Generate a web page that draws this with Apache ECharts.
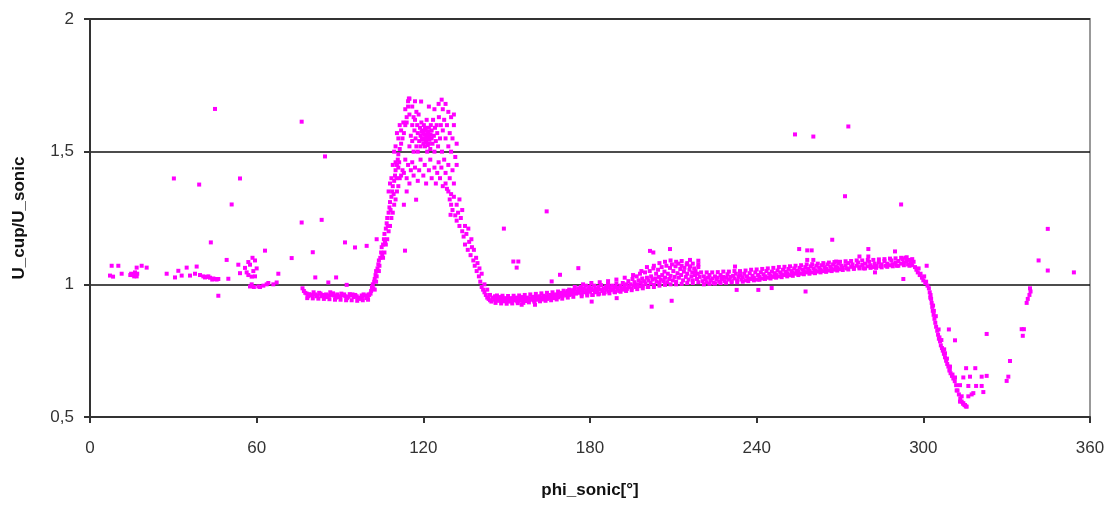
<!DOCTYPE html>
<html>
<head>
<meta charset="utf-8">
<script src="https://cdn.jsdelivr.net/npm/echarts@6/dist/echarts.min.js"></script>
<style>
html,body{margin:0;padding:0;background:#fff;}
#chart{width:1117px;height:506px;}
</style>
</head>
<body>
<div id="chart"></div>
<script>
// ---- data (phi_sonic [deg], U_cup/U_sonic) ----
const xTicks = [0, 60, 120, 180, 240, 300, 360];
const yTicks = [0.5, 1, 1.5, 2];

const leftScatter = [
[7.2,1.033],[7.8,1.07],[8.3,1.029],[10.2,1.07],[11.4,1.04],[14.5,1.035],[14.8,1.04],[15.5,1.035],[15.9,1.03],[16.2,1.045],[16.8,1.03],[17.0,1.04],[16.8,1.063],[18.6,1.07],[20.4,1.063],[27.6,1.04],[30.6,1.026],[31.8,1.051],[33.0,1.033],[34.8,1.063],[36.0,1.033],[37.8,1.04],[38.4,1.067],[39.6,1.035],[40.8,1.03],[41.4,1.026],[42.0,1.028],[42.6,1.03],[43.2,1.025],[44.0,1.018],[44.4,1.022],[45.0,1.02],[45.6,1.018],[46.2,1.02],[46.2,0.957],[49.2,1.092],[49.8,1.021],[53.4,1.074],[54.0,1.042],[55.8,1.062],[56.4,1.045],[57.0,1.084],[57.0,1.035],[57.6,1.074],[57.6,0.992],[58.2,1.029],[58.2,1.0],[58.5,1.1],[58.8,1.05],[59.0,0.99],[59.4,1.09],[59.4,1.03],[60.0,1.06],[60.6,0.992],[61.2,0.99],[62.4,0.995],[63.6,1.0],[64.2,1.005],[66.0,1.0],[67.2,1.007],[67.8,1.04],[63.0,1.127]
];

const outliers = [
[30.2,1.399],[39.3,1.376],[54.0,1.399],[45.0,1.661],[76.2,1.613],[84.6,1.482],[51.0,1.301],[43.5,1.158],[76.2,1.233],[83.4,1.243],[72.6,1.099],[80.2,1.121],[91.8,1.158],[95.4,1.139],[99.6,1.145],[103.2,1.17],[81.1,1.026],[85.8,1.007],[88.6,1.026],[92.4,0.998],
[119.2,1.689],[126.6,1.696],[117.4,1.319],[129.8,1.262],[113.4,1.127],[149,1.21],[164.4,1.275],[152.4,1.086],[154.2,1.086],[153.6,1.063],[175.8,1.061],[169.2,1.036],[166.2,1.011],[201.6,1.126],[202.8,1.12],[208.8,1.133],[209.4,0.938],[202.2,0.916],[216,1.092],[219,1.089],[232.2,1.067],[232.8,0.979],[240.6,0.979],[245.4,0.986],[189.6,0.948],[180.6,0.935],[155.4,0.923],[160.2,0.923],
[253.8,1.565],[260.4,1.557],[273,1.595],[271.8,1.332],[292,1.301],[267.2,1.168],[255.3,1.133],[258.2,1.128],[259.8,1.128],[258.2,1.092],[260.4,1.092],[280.2,1.133],[277,1.105],[280.2,1.105],[289.8,1.124],[292.8,1.02],[301.2,1.07],[257.6,0.973],[282.6,1.045],[268.6,1.086],
[341.5,1.09],[344.8,1.052],[344.8,1.209],[354.2,1.045]
];

const lowBand = [
[76.5,0.985],[77,0.975],[77.5,0.968],[78,0.965],[78.5,0.955],[79,0.963],[79.5,0.958],[80,0.96],[80.5,0.97],[81,0.962],[81.5,0.955],[82,0.958],[82.5,0.968],[83,0.965],[83.5,0.955],[84,0.96],[84.5,0.952],[85,0.962],[85.5,0.952],[86,0.958],[86.5,0.97],[87,0.96],[87.5,0.966],[88,0.957],[88.5,0.95],[89,0.962],[89.5,0.952],[90,0.955],[90.5,0.965],[91,0.958],[91.5,0.962],[92,0.955],[92.5,0.948],[93,0.953],[93.5,0.963],[94,0.958],[94.5,0.962],[95,0.952],[95.5,0.96],[96,0.955],[96.5,0.948],[97,0.95],[97.5,0.945],[97.8,0.958],[98,0.953],[98.5,0.962],[99,0.958],[99.5,0.948],[100,0.955],[100.3,0.962],
[78.2,0.948],[80.2,0.947],[82.2,0.946],[84.2,0.945],[86.2,0.944],[88.2,0.942],[90.2,0.942],[92.2,0.94],[94.2,0.94],[96.2,0.938],[98.2,0.94],[100.1,0.942]
];

const riseLeft = [
[100.5,0.96],[101,0.965],[101.2,0.975],[101.5,0.99],[101.8,1.0],[102,0.985],[102.3,1.01],[102.5,1.02],[102.5,0.98],[102.8,1.035],[103,1.05],[103,1.01],[103.2,1.03],[103.5,1.06],[103.8,1.075],[104,1.09],[104,1.05],[104.2,1.07],[104.5,1.1],[104.8,1.12],[105,1.14],[105.2,1.11],[105.5,1.15],[105.5,1.1],[105.8,1.17],[106,1.19],[106,1.12],[106.2,1.16],[106.5,1.21],[106.5,1.15],[106.8,1.23],[107,1.25],[107,1.17],[107.2,1.22],[107.5,1.27],[107.5,1.2],[107.5,1.35],[107.8,1.29],[108,1.31],[108,1.22],[108,1.38],[108.2,1.28],[108.5,1.33],[108.5,1.25],[108.5,1.4],[108.8,1.35],[109,1.37],[109,1.27],[109,1.45],[109.3,1.34],[109.5,1.39],[109.5,1.3],[109.5,1.5],[109.8,1.41],[110,1.43],[110,1.32],[110,1.46],[110,1.52],[110.3,1.4],[110.5,1.45],[110.5,1.35],[110.5,1.57],[110.8,1.47],[111,1.49],[111,1.37],[111,1.44],[111,1.55],[111.3,1.46],[111.5,1.51],[111.5,1.4],[111.5,1.6],[112,1.53],[112,1.41],[112,1.58],[112.5,1.55],[112.5,1.43],[113,1.57],[113.5,1.6],[114,1.63],[114.5,1.67],[114.8,1.7]
];

const peakCloud = [
[115,1.52],[115.5,1.56],[116,1.6],[116,1.54],[116.5,1.5],[116.8,1.58],[117,1.62],[117.2,1.55],[117.5,1.52],[117.8,1.6],[118,1.57],[118,1.5],[118.3,1.64],[118.5,1.54],[118.8,1.59],[119,1.52],[119,1.56],[119.3,1.61],[119.5,1.55],[119.7,1.58],[120,1.53],[120,1.57],[120.2,1.6],[120.4,1.55],[120.6,1.52],[120.8,1.58],[121,1.54],[121,1.56],[121.2,1.62],[121.4,1.5],[121.5,1.57],[121.7,1.55],[122,1.53],[122,1.59],[122.3,1.56],[122.5,1.51],[122.7,1.6],[123,1.55],[123,1.58],[123.3,1.53],[123.5,1.62],[123.8,1.56],[124,1.5],[124.2,1.59],[124.5,1.54],[124.8,1.6],[125,1.57],[125.3,1.52],[125.6,1.63],[126,1.55],[126.3,1.6],[126.7,1.5],[127,1.58],[127.5,1.62],[128,1.55],[128.5,1.6],[129,1.52],[129.5,1.57],[130,1.5],[130.5,1.55],[131,1.6],[131.5,1.48],[132,1.53],
[119.8,1.545],[120.3,1.565],[120.9,1.535],[121.3,1.555],[121.8,1.575],[122.2,1.545],[120.6,1.59],[121.6,1.525],[119.4,1.575],[122.6,1.565],
[113.5,1.66],[114.5,1.69],[115,1.7],[116,1.67],[117,1.69],[117.5,1.65],[122,1.67],[124,1.66],[125.5,1.68],[127,1.66],[128,1.68],[129,1.65],[130,1.63],[114,1.61],[115,1.64],[116.5,1.63],[112.8,1.61],[131,1.64],
[113,1.42],[113.5,1.47],[114,1.4],[114.5,1.45],[115,1.38],[115.5,1.43],[116,1.46],[116.5,1.41],[117,1.44],[118,1.39],[118.5,1.43],[119,1.47],[120,1.41],[120.5,1.45],[121,1.38],[122,1.43],[122.5,1.47],[123,1.4],[124,1.44],[124.5,1.38],[125,1.42],[125.5,1.46],[126,1.4],[126.5,1.44],[127,1.37],[127.5,1.47],[128,1.42],[128.5,1.36],[129,1.45],[129.5,1.4],[130,1.34],[130.5,1.43],[131,1.38],[132,1.45],[114,1.35],[113,1.3]
];

const fallRight = [
[128,1.38],[129,1.35],[129.5,1.32],[130,1.3],[130.5,1.28],[131,1.33],[131.5,1.26],[132,1.3],[132,1.24],[132.5,1.27],[133,1.22],[133,1.32],[133.5,1.25],[134,1.2],[134,1.28],[134.5,1.18],[135,1.22],[135,1.15],[135.5,1.19],[136,1.13],[136.2,1.21],[136.5,1.16],[137,1.11],[137.3,1.17],[137.5,1.14],[138,1.09],[138.2,1.13],[138.5,1.07],[139,1.1],[139.2,1.05],[139.5,1.08],[140,1.03],[140.2,1.06],[140.5,1.01],[141,1.04],[141,0.99],[141.5,0.98],[142,1.0],[142,0.97],[142.5,0.96],[143,0.98],[143,0.95],[143.5,0.945],[144,0.96],[144,0.94],[144.5,0.935],[145,0.95]
];

const bandLow = [
[145.5,0.942],[145.8,0.955],[146,0.948],[146.5,0.938],[147,0.945],[147.3,0.952],[147.8,0.938],[148,0.944],[148.5,0.95],[149,0.936],[149.3,0.943],[149.8,0.948],[150,0.94],[150.5,0.945],[151,0.935],[151.3,0.948],[151.8,0.942],[152,0.938],[152.5,0.946],[153,0.94],[153.4,0.95],[153.8,0.936],[154,0.943],[154.5,0.948],[155,0.938],[155.3,0.945],[155.8,0.952],[156,0.94],[156.5,0.946],[157,0.937],[157.3,0.95],[157.8,0.944],[158,0.94],[158.5,0.948],[159,0.942],[159.4,0.953],[159.8,0.939],[160,0.946],[160.5,0.952],[161,0.942],[161.4,0.949],[161.8,0.955],[162,0.945],[162.5,0.951],[163,0.943],[163.3,0.957],[163.8,0.948],[164,0.953],[164.5,0.945],[165,0.956],[165.4,0.949],[165.8,0.96],[166,0.952],[166.5,0.958],[167,0.948],[167.3,0.962],[167.8,0.955],[168,0.96],[168.5,0.951],[169,0.964],[169.4,0.957],[169.8,0.968],[170,0.955],[170.5,0.962],[171,0.97],[171.4,0.958],[171.8,0.965],[172,0.975],[172.5,0.96],[173,0.968],[173.4,0.978],[173.8,0.962],[174,0.97],[174.5,0.98],[175,0.965],[175.4,0.972],[175.8,0.985]
];

const bandMid = [
[176,0.968],[176.3,0.978],[176.7,0.99],[177,0.962],[177.4,0.975],[177.8,0.985],[178,0.97],[178.5,0.995],[178.8,0.978],[179,0.965],[179.4,0.982],[179.8,0.99],[180,0.972],[180.5,0.985],[180.8,0.96],[181,0.978],[181.5,0.995],[181.8,0.97],[182,0.983],[182.5,0.975],[183,0.99],[183.3,0.965],[183.7,0.98],[184,0.997],[184.5,0.975],[185,0.985],[185.3,0.97],[185.8,0.992],[186,0.98],[186.5,1.0],[186.8,0.973],[187,0.988],[187.5,0.978],[188,0.995],[188.3,0.982],[188.8,0.972],[189,0.99],[189.5,1.003],[189.8,0.98],[190,0.987],[190.5,0.975],[191,0.995],[191.3,0.985],[191.8,1.005],[192,0.98],[192.5,0.992],[193,1.0],[193.3,0.983],[193.8,1.012],[194,0.99],[194.5,1.0],[195,0.985],[195.3,1.02],[195.8,0.995],[196,1.008],[196.5,0.99],[196.8,1.03],[197,1.0],[197.5,1.015],[197.8,0.993],[198,1.04],[198.3,1.008],[198.8,1.022],[199,0.995],[199.5,1.012],[199.8,1.045],[200,1.002],[200.5,1.025],[200.8,0.99],[201,1.015],[201.5,1.05],[201.8,1.005],[202,1.03],[202.5,1.018],[202.8,1.06],[203,0.998],[203.5,1.022],[203.8,1.04],[204,1.01],[204.5,1.055],[204.8,1.028],[205,1.005],[205.5,1.018],[205.8,1.065],[206,1.035],[206.5,1.012],[206.8,1.048],[207,1.025],[207.5,1.07],[207.8,1.008],[208,1.04],[208.5,1.02],[208.8,1.062],[209,1.032],[209.5,1.075],[209.8,1.015],[210,1.05],[210.5,1.028],[210.8,1.068],[211,1.01],[211.5,1.042],[211.8,1.078],[212,1.025],[212.5,1.058],[212.8,1.035],[213,1.07],[213.5,1.015],[213.8,1.048],[214,1.062],[214.5,1.028],[214.8,1.075],[215,1.04],[215.5,1.018],[215.8,1.055],[216,1.068],[216.5,1.03],[216.8,1.045],[217,1.015],[217.5,1.06],[217.8,1.035],[218,1.05],[218.5,1.02],[218.8,1.04],[219,1.065],[219.5,1.028],[220,1.045]
];

const bandHigh = [
[220.5,1.012],[221,1.03],[221.5,1.02],[222,1.008],[222.5,1.025],[223,1.035],[223.5,1.015],[224,1.022],[224.5,1.005],[225,1.03],[225.5,1.018],[226,1.025],[226.5,1.01],[227,1.035],[227.5,1.02],[228,1.028],[228.5,1.012],[229,1.025],[229.5,1.038],[230,1.018],[230.5,1.028],[231,1.012],[231.5,1.032],[232,1.022],[232.5,1.04],[233,1.015],[233.5,1.028],[234,1.035],[234.5,1.018],[235,1.027],[235.5,1.04],[236,1.015],[236.5,1.03],[237,1.022],[237.5,1.042],[238,1.02],[238.5,1.032],[239,1.025],[239.5,1.045],[240,1.018],[240.5,1.035],[241,1.028],[241.5,1.045],[242,1.022],[242.5,1.038],[243,1.03],[243.5,1.05],[244,1.025],[244.5,1.04],[245,1.032],[245.5,1.048],[246,1.028],[246.5,1.042],[247,1.035],[247.5,1.052],[248,1.03],[248.5,1.045],[249,1.038],[249.5,1.055],[250,1.035],[250.5,1.048],[251,1.042],[251.5,1.058],[252,1.035],[252.5,1.05],[253,1.045],[253.5,1.06],[254,1.04],[254.5,1.052],[255,1.047],[255.5,1.062],[256,1.04],[256.5,1.055],[257,1.05],[257.5,1.065],[258,1.045],[258.5,1.058],[259,1.052],[259.5,1.068],[260,1.045],[260.5,1.06],[261,1.053],[261.5,1.07],[262,1.048],[262.5,1.062],[263,1.056],[263.5,1.072],[264,1.05],[264.5,1.065],[265,1.058],[265.5,1.075],[266,1.052],[266.5,1.066],[267,1.06],[267.5,1.075],[268,1.055],[268.5,1.068],[269,1.062],[269.5,1.078],[270,1.057],[270.5,1.07],[271,1.063],[272,1.072],[272.5,1.06],[273,1.08],[274,1.066],[274.5,1.075],[275,1.062],[276,1.07],[276.5,1.082],[277,1.065],[278,1.073],[278.5,1.06],[279,1.078],[280,1.068],[280.5,1.085],[281,1.072],[282,1.065],[282.5,1.078],[283,1.07],[284,1.082],[284.5,1.068],[285,1.075],[286,1.088],[286.5,1.07],[287,1.078],[288,1.072],[288.5,1.09],[289,1.076],[290,1.082],[290.5,1.07],[291,1.088],[292,1.078],[292.5,1.095],[293,1.082],[293.5,1.1],[294,1.088],[294.5,1.075],[295,1.092],[295.5,1.08],[296,1.072],[296.5,1.085],[297,1.065],[297.5,1.055],[298,1.045],[298.3,1.06],[298.7,1.035],[299,1.04],[299.5,1.025],[300,1.015],[300.3,1.03],[300.7,1.005],[301,1.01],[301.5,0.995]
];

const bandFringeLow = [
[146,0.93],[148,0.928],[150,0.927],[152,0.928],[154,0.929],[156,0.93],[158,0.932],[160,0.934],[162,0.936],[164,0.938],[166,0.94],[168,0.943],[170,0.946],[172,0.95],[174,0.953],
[177,0.955],[179,0.958],[181,0.96],[183,0.962],[185,0.965],[187,0.966],[189,0.97],[191,0.972],[193,0.975],[195,0.978],[197,0.982],[199,0.985],[201,0.99],[203,0.99],[205,0.995],[207,0.998],[209,1.0],[211,1.0],[213,1.002],[215,1.005],[217,1.005],[219,1.008],
[221,1.0],[223,1.002],[225,1.003],[227,1.005],[229,1.006],[231,1.008],[233,1.008],[235,1.01],[237,1.012],[239,1.015],[241,1.017],[243,1.02],[245,1.022],[247,1.025],[249,1.027],[251,1.03],[253,1.032],[255,1.035],[257,1.038],[259,1.04],[261,1.042],[263,1.045],[265,1.047],[267,1.05],[269,1.052],[271,1.054],[273,1.056],[275,1.058],[277,1.06],[279,1.06],[281,1.062],[283,1.062],[285,1.064],[287,1.066],[289,1.068],[291,1.07],[293,1.072],[295,1.07]
];

const bandFringeHigh = [
[146.5,0.958],[148.5,0.957],[150.5,0.956],[152.5,0.957],[154.5,0.958],[156.5,0.96],[158.5,0.962],[160.5,0.964],[162.5,0.966],[164.5,0.968],[166.5,0.97],[168.5,0.973],[170.5,0.976],[172.5,0.98],[174.5,0.99],
[177.5,1.0],[180.5,1.005],[183.5,1.008],[186.5,1.012],[189.5,1.018],[192.5,1.025],[195.5,1.035],[198.5,1.05],[200.5,1.065],[203,1.07],[205,1.08],[207,1.085],[209,1.09],[211,1.085],[213,1.088],[215,1.08],[217,1.078],[219,1.075],
[222,1.045],[224,1.045],[226,1.046],[228,1.048],[230,1.048],[232,1.05],[234,1.05],[236,1.052],[238,1.055],[240,1.056],[242,1.058],[244,1.06],[246,1.062],[248,1.065],[250,1.066],[252,1.068],[254,1.07],[256,1.072],[258,1.075],[260,1.076],[262,1.078],[264,1.08],[266,1.082],[268,1.084],[270,1.085],[272,1.087],[274,1.088],[276,1.09],[278,1.09],[280,1.092],[282,1.092],[284,1.094],[286,1.095],[288,1.097],[290,1.098],[292,1.1],[294,1.102],[296,1.095]
];

const descent = [
[302,0.985],[302.3,0.97],[302.6,0.96],[302.8,0.945],[303,0.93],[303.2,0.915],[303.4,0.9],[303.7,0.885],[304,0.87],[304.3,0.855],[304.6,0.84],[305,0.825],[305.3,0.81],[305.6,0.795],[306,0.785],[306.3,0.77],[306.7,0.76],[307,0.75],[307.4,0.738],[307.8,0.725],[308.2,0.712],[308.6,0.7],[309,0.69],[309.4,0.675],[309.8,0.665],[310.3,0.655],[310.8,0.645],[311.3,0.635],[311.8,0.62],[312.3,0.6],[312.8,0.585],[313.3,0.57],[313.8,0.558],[314.3,0.55],[314.8,0.545],[315.3,0.54],
[302.5,0.95],[303.5,0.92],[304.5,0.88],[305.5,0.83],[306.5,0.79],[307.5,0.755],[308.5,0.72],[309.5,0.68],[310.5,0.66],[303.8,0.9],[305.8,0.8],[307.8,0.74]
];

const dipScatter = [
[309.2,0.83],[311.4,0.789],[309.6,0.69],[315.4,0.684],[318.7,0.684],[311.4,0.649],[314.4,0.649],[321,0.652],[322.8,0.655],[316.2,0.617],[319,0.617],[321,0.617],[313.2,0.62],[312,0.6],[321.6,0.594],[313.8,0.578],[316.2,0.578],[317.4,0.585],[313.2,0.558],[314.4,0.552],[315,0.545],[315.6,0.539],[316.8,0.652],[318,0.59],[322.8,0.813],[330,0.636],[330.6,0.652],[331.2,0.711],[335.4,0.831],[336.2,0.831],[335.8,0.806],[337.2,0.93],[337.6,0.945],[338.2,0.96],[338.6,0.973],[338.4,0.985]
];

const allPoints = [].concat(leftScatter, outliers, lowBand, riseLeft, peakCloud, fallRight, bandLow, bandMid, bandHigh, bandFringeLow, bandFringeHigh, descent, dipScatter);

const chart = echarts.init(document.getElementById('chart'), null, {renderer: 'canvas'});
const fontFam = '"Liberation Sans", Arial, sans-serif';
chart.setOption({
  animation: false,
  backgroundColor: '#ffffff',
  grid: {left: 90, right: 27, top: 19, bottom: 89, show: true, borderColor: '#999999', borderWidth: 2, backgroundColor: '#ffffff'},
  xAxis: {
    type: 'value', min: xTicks[0], max: xTicks[xTicks.length - 1], interval: 60,
    name: 'phi_sonic[°]', nameLocation: 'middle', nameGap: 65,
    nameTextStyle: {fontFamily: fontFam, fontSize: 17, fontWeight: 'bold', color: '#111'},
    axisLine: {show: true, onZero: false, lineStyle: {color: '#333', width: 2}},
    axisTick: {show: true, length: 6, lineStyle: {color: '#333', width: 2}},
    axisLabel: {fontFamily: fontFam, fontSize: 17, color: '#333', margin: 23},
    splitLine: {show: false}
  },
  yAxis: {
    type: 'value', min: yTicks[0], max: yTicks[yTicks.length - 1], interval: 0.5,
    name: 'U_cup/U_sonic', nameLocation: 'middle', nameGap: 62,
    nameTextStyle: {fontFamily: fontFam, fontSize: 17, fontWeight: 'bold', color: '#111'},
    axisLine: {show: true, onZero: false, lineStyle: {color: '#333', width: 2}},
    axisTick: {show: true, length: 6, lineStyle: {color: '#333', width: 2}},
    axisLabel: {fontFamily: fontFam, fontSize: 17, color: '#333', margin: 16,
      formatter: function (v) { return String(v).replace('.', ','); }},
    splitLine: {show: true, lineStyle: {color: '#111', width: 1.5}}
  },
  series: [{
    type: 'scatter',
    data: allPoints,
    symbol: 'rect',
    symbolSize: 4,
    itemStyle: {color: '#ff00ff', opacity: 1},
    silent: true
  }]
});
</script>
</body>
</html>
